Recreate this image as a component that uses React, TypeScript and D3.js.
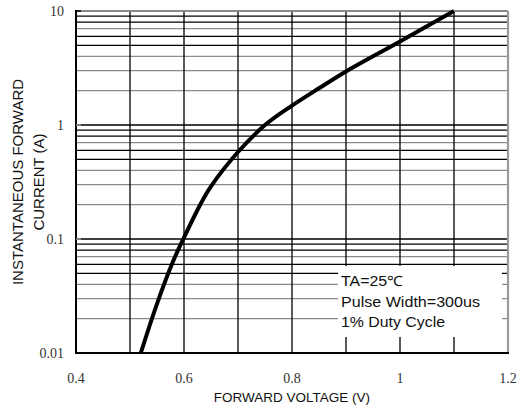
import React from "react";
import * as d3 from "d3";

const voltage = [0.52, 0.55, 0.58, 0.6, 0.63, 0.65, 0.7, 0.75, 0.8, 0.85, 0.9, 1.0, 1.1];
const current = [0.01, 0.027, 0.064, 0.103, 0.2, 0.29, 0.58, 1.0, 1.48, 2.1, 2.95, 5.4, 10];
const xTicks = [0.4, 0.6, 0.8, 1, 1.2];
const xTickLabels = ["0.4", "0.6", "0.8", "1", "1.2"];
const yTicks = [0.01, 0.1, 1, 10];
const yTickLabels = ["0.01", "0.1", "1", "10"];
const vGrid = [0.5, 0.6, 0.7, 0.8, 0.9, 1.0, 1.1];
const decades = [0.01, 0.1, 1];
const minorMult = [2, 3, 4, 5, 6, 7, 8, 9];
const grayMult = [2, 3, 4, 7];
const notes = ["TA=25\u2103", "Pulse Width=300us", "1% Duty Cycle"];
const noteWidths = [62, 139, 104];

const W = 519, H = 412;
const L = 76, R = 508, T = 11, B = 353;

export default function App() {
  const x = d3.scaleLinear().domain([0.4, 1.2]).range([L, R]);
  const y = d3.scaleLog().domain([0.01, 10]).range([B, T]);
  const pts = voltage.map((v, i) => [v, current[i]] as [number, number]);
  const line = d3
    .line<[number, number]>()
    .x((d) => x(d[0]))
    .y((d) => y(d[1]))
    .curve(d3.curveCatmullRom.alpha(0.5));

  const hLines: { v: number; gray: boolean }[] = [];
  decades.forEach((d) => {
    minorMult.forEach((m) => hLines.push({ v: d * m, gray: grayMult.includes(m) }));
  });

  const sans = "'Liberation Sans', Arial, sans-serif";
  const serif = "'Liberation Serif', 'Times New Roman', serif";

  return (
    <svg
      width={W}
      height={H}
      style={{ position: "absolute", left: 0, top: 0, background: "#fff" }}
    >
      <rect x={0} y={0} width={W} height={H} fill="#fff" />
      {hLines.map((h, i) => (
        <line
          key={"h" + i}
          x1={L}
          x2={R}
          y1={y(h.v)}
          y2={y(h.v)}
          stroke={h.gray ? "#8a8a8a" : "#000"}
          strokeWidth={1.3}
        />
      ))}
      {[0.1, 1].map((v) => (
        <line key={"d" + v} x1={L} x2={R} y1={y(v)} y2={y(v)} stroke="#000" strokeWidth={1.3} />
      ))}
      {vGrid.map((v) => (
        <line key={"v" + v} x1={x(v)} x2={x(v)} y1={T} y2={B} stroke="#000" strokeWidth={1.3} />
      ))}
      <rect x={338} y={266} width={164} height={71} fill="#fff" />
      {notes.map((t, i) => (
        <text
          key={"n" + i}
          x={341}
          y={286 + i * 20.5}
          fontFamily={sans}
          fontSize={14}
          fill="#111"
          textLength={noteWidths[i]}
          lengthAdjust="spacingAndGlyphs"
        >
          {t}
        </text>
      ))}
      <line x1={L} x2={R} y1={T} y2={T} stroke="#8a8a8a" strokeWidth={2} />
      <line x1={R} x2={R} y1={T} y2={B} stroke="#9a9a9a" strokeWidth={2.2} />
      <line x1={L} x2={R + 1} y1={B} y2={B} stroke="#000" strokeWidth={2} />
      <line x1={L} x2={L} y1={T - 1} y2={B + 1} stroke="#000" strokeWidth={2} />
      {yTicks.slice(1).map((v) => (
        <line key={"t" + v} x1={L} x2={L + 5} y1={y(v)} y2={y(v)} stroke={v === 10 ? "#000" : "#999"} strokeWidth={1.5} />
      ))}
      <path d={line(pts) || ""} fill="none" stroke="#000" strokeWidth={4} strokeLinejoin="round" />
      {xTicks.map((v, i) => (
        <text
          key={"xl" + i}
          x={x(v)}
          y={383}
          textAnchor="middle"
          fontFamily={serif}
          fontSize={14}
          fill="#333"
        >
          {xTickLabels[i]}
        </text>
      ))}
      {yTicks.map((v, i) => (
        <text
          key={"yl" + i}
          x={64}
          y={y(v) + 5}
          textAnchor="end"
          fontFamily={serif}
          fontSize={14}
          fill="#333"
        >
          {yTickLabels[i]}
        </text>
      ))}
      <text x={292} y={402} textAnchor="middle" fontFamily={sans} fontSize={13.5} fill="#111">
        FORWARD VOLTAGE (V)
      </text>
      <text
        transform="translate(23,182) rotate(-90)"
        textAnchor="middle"
        fontFamily={sans}
        fontSize={15}
        fill="#111"
      >
        INSTANTANEOUS FORWARD
      </text>
      <text
        transform="translate(44,182) rotate(-90)"
        textAnchor="middle"
        fontFamily={sans}
        fontSize={15}
        fill="#111"
      >
        CURRENT (A)
      </text>
    </svg>
  );
}
